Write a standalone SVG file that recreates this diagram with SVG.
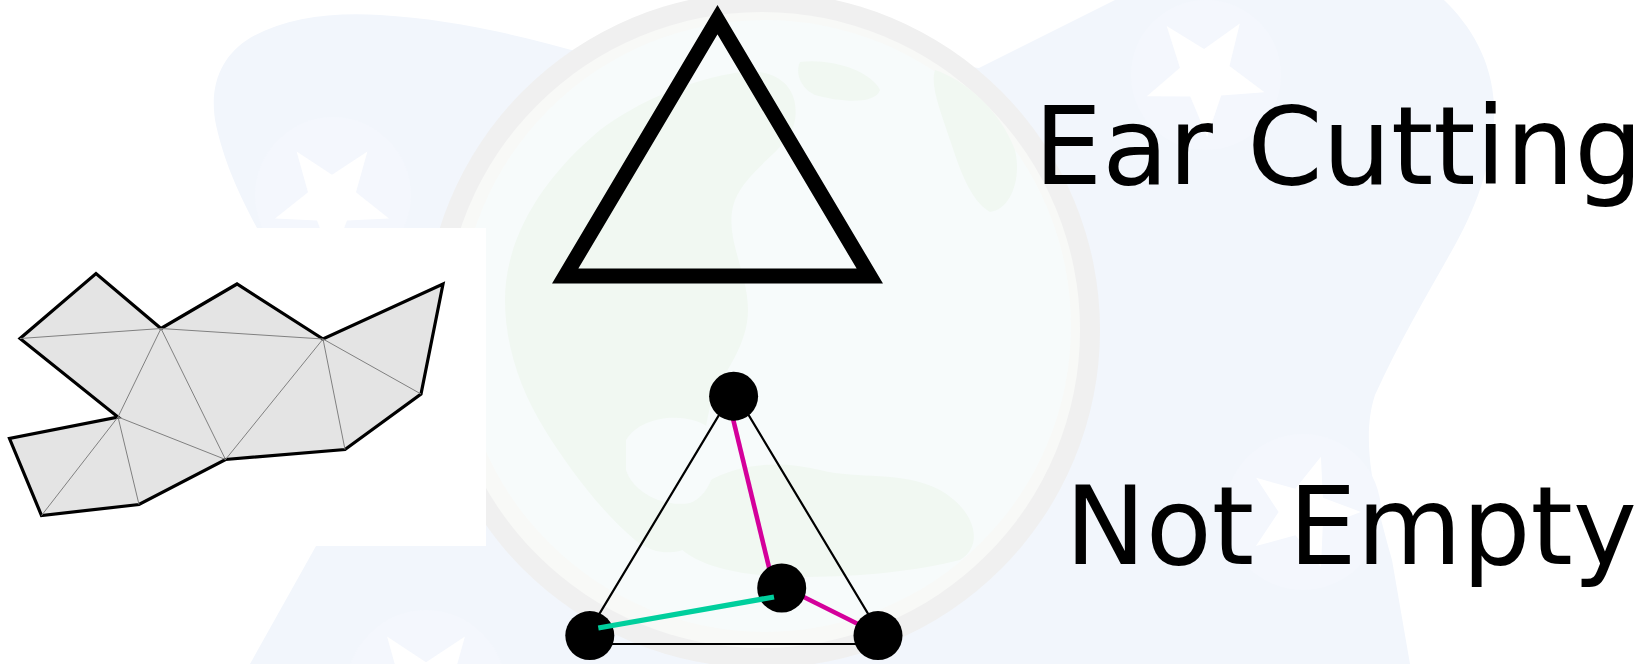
<svg xmlns="http://www.w3.org/2000/svg" width="1647" height="664" viewBox="0 0 1647 664">
  <style>
    .blob { fill: #f2f6fc; }
    .starbg { fill: #f4f7fd; }
    .star { fill: #ffffff; }
    .land { fill: #f1f8f2; }
    .poly { fill: #e4e4e4; stroke: #000; stroke-width: 3.2; stroke-linejoin: miter; }
    .tri { fill: none; stroke: #808080; stroke-width: 1; }
    .label { font-family: "DejaVu Sans", "Liberation Sans", sans-serif; font-size: 108px; fill: #000; }
    .dot { fill: #000; }
  </style>
  <defs>
    <polygon id="starShape" points="0,-1 0.25,-0.34 0.95,-0.31 0.4,0.13 0.59,0.81 0,0.42 -0.59,0.81 -0.4,0.13 -0.95,-0.31 -0.25,-0.34"/>
  </defs>
  <rect width="1647" height="664" fill="#ffffff"/>

  <g id="background">
    <path class="blob" d="M250,664 L316,546 L290,400 L257,228 C245,205 226,170 216,125 C208,85 222,55 250,38 C285,18 330,12 380,15 C450,19 520,35 590,55 L760,40 L979,68 L1115,0 L1444,0 C1470,25 1492,60 1494,105 C1496,150 1480,200 1455,245 C1430,290 1400,340 1375,395 C1360,440 1375,500 1392,560 L1410,664 Z"/>
    <circle class="starbg" cx="333" cy="195" r="78"/>
    <circle class="starbg" cx="1206" cy="75" r="75"/>
    <circle class="starbg" cx="1303" cy="512" r="78"/>
    <circle class="starbg" cx="426" cy="690" r="80"/>
    <use href="#starShape" class="star" transform="translate(332,200) rotate(180) scale(60)"/>
    <use href="#starShape" class="star" transform="translate(1205,75) rotate(178) scale(62)"/>
    <use href="#starShape" class="star" transform="translate(1303,512) rotate(18) scale(58)"/>
    <use href="#starShape" class="star" transform="translate(426,690) rotate(180) scale(66)"/>
    <!-- globe -->
    <circle cx="762" cy="330" r="338" fill="#f0f0f0"/>
    <circle cx="762" cy="330" r="318" fill="#f8f9f7"/>
    <circle cx="765" cy="326" r="306" fill="#f7fbfb"/>
    <path class="land" d="M505,300 C505,240 540,180 600,130 C640,100 690,80 740,72 C775,68 800,85 795,120 C790,150 750,165 735,200 C722,235 748,270 748,310 C748,345 725,370 712,400 C700,440 700,490 712,530 C690,555 660,560 635,540 C600,510 570,470 545,430 C520,390 505,345 505,300 Z"/>
    <path class="land" d="M800,62 C830,58 870,70 880,90 C875,105 840,102 815,95 C800,88 795,72 800,62 Z"/>
    <path class="land" d="M935,70 C965,80 1000,110 1015,150 C1022,180 1010,210 990,212 C970,200 960,170 950,140 C940,110 930,85 935,70 Z"/>
    <path class="land" d="M665,520 C700,470 760,455 820,470 C860,480 900,470 940,490 C975,510 985,545 960,560 C900,575 820,580 760,575 C710,570 670,555 665,520 Z"/>
    <path fill="#f7fbfb" d="M626,440 C640,415 690,410 712,430 C722,460 712,495 690,503 C660,508 632,490 626,470 Z"/>
  </g>

  <rect id="polygon-panel" x="0" y="228" width="486" height="318" fill="#ffffff"/>

  <g id="ear-polygon">
    <polygon class="poly" points="20,338.5 96,273.5 161,328.5 237,284 323,339 443,284 421,394 345,449.5 225.5,459.5 139,504.5 41.5,515.5 9.5,438.5 118,417"/>
    <g class="tri">
      <line x1="20" y1="338.5" x2="161" y2="328.5"/>
      <line x1="161" y1="328.5" x2="118" y2="417"/>
      <line x1="161" y1="328.5" x2="225.5" y2="459.5"/>
      <line x1="161" y1="328.5" x2="323" y2="339"/>
      <line x1="323" y1="339" x2="225.5" y2="459.5"/>
      <line x1="323" y1="339" x2="345" y2="449.5"/>
      <line x1="323" y1="339" x2="421" y2="394"/>
      <line x1="118" y1="417" x2="225.5" y2="459.5"/>
      <line x1="118" y1="417" x2="139" y2="504.5"/>
      <line x1="118" y1="417" x2="41.5" y2="515.5"/>
    </g>
  </g>

  <g id="ear-triangle">
    <polygon points="717.5,19.7 565.2,276 869.8,276" fill="none" stroke="#000" stroke-width="15" stroke-linejoin="miter" stroke-miterlimit="10"/>
  </g>

  <g id="connectors">
    <polygon points="733.8,390.4 581.3,644 886.2,644" fill="none" stroke="#000" stroke-width="2.2" stroke-linejoin="miter"/>
    <line x1="727.5" y1="396" x2="774" y2="588" stroke="#d4009b" stroke-width="4.6"/>
    <line x1="781.7" y1="586" x2="878" y2="634" stroke="#d4009b" stroke-width="4.6"/>
  </g>

  <g id="vertex-top"><circle class="dot" cx="733.6" cy="396.2" r="24.5"/></g>
  <g id="vertex-left"><circle class="dot" cx="589.8" cy="635.6" r="24.5"/></g>
  <g id="vertex-right"><circle class="dot" cx="878" cy="635.6" r="24.5"/></g>
  <g id="vertex-inner"><circle class="dot" cx="781.7" cy="588" r="24.5"/></g>

  <g id="diagonal">
    <line x1="598.3" y1="628" x2="774" y2="597" stroke="#00cf9d" stroke-width="5.2"/>
  </g>

  <g id="label-ear">
    <text class="label" x="1034" y="183.5">Ear Cutting</text>
  </g>
  <g id="label-empty">
    <text class="label" x="1065" y="564.3">Not Empty</text>
  </g>
</svg>
